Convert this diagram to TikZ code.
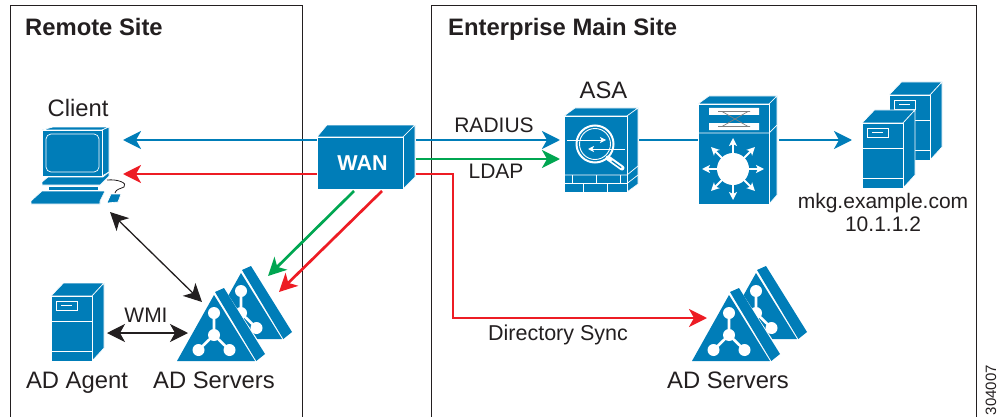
\documentclass[tikz,border=0pt]{standalone}
\usepackage{fontspec}
\setmainfont{Liberation Sans}
\usetikzlibrary{arrows.meta}
\definecolor{cblue}{HTML}{007DB8}
\definecolor{cred}{HTML}{ED1C24}
\definecolor{cgreen}{HTML}{00A651}
\definecolor{cink}{HTML}{231F20}
\tikzset{
  frame/.style={draw=cink,line width=1pt},
  face/.style={fill=cblue,draw=white,line width=.6pt,line join=round},
  wline/.style={draw=white,line width=.7pt},
  flowb/.style={draw=cblue,line width=2.7pt,-{Stealth[length=18pt,width=18pt,inset=5pt]}},
  flowr/.style={draw=cred,line width=2.7pt,-{Stealth[length=18pt,width=18pt,inset=5pt]}},
  flowg/.style={draw=cgreen,line width=2.7pt,-{Stealth[length=18pt,width=18pt,inset=5pt]}},
  link/.style={draw=cblue,line width=2.7pt},
  duplex/.style={draw=cink,line width=1.3pt,{Stealth[length=18pt,width=18pt,inset=5pt]}-{Stealth[length=18pt,width=18pt,inset=5pt]}},
  lab/.style={anchor=base,inner sep=0pt,text=cink,font=\fontsize{23.8}{26}\selectfont},
  small/.style={anchor=base,inner sep=0pt,text=cink,font=\fontsize{21}{24}\selectfont},
  title/.style={anchor=base west,inner sep=0pt,text=cink,font=\fontsize{23.8}{26}\selectfont\bfseries},
  hub/.style={fill=white,draw=none},
  tiparrow/.style={draw=white,line width=1.8pt,-{Stealth[length=8pt,width=8pt,inset=2pt]}},
  thinarrow/.style={draw=white,line width=1pt,-{Stealth[length=6pt,width=6pt,inset=1.5pt]}},
}
\newcommand{\drawServer}[2]{%
\begin{scope}[shift={(#1,#2)}]
  \path[face] (0,0) -- (12.5,-13) -- (53,-13) -- (41,0) -- cycle;
  \path[face] (41,0) -- (53,-13) -- (53,52) -- (41,65) -- cycle;
  \path[face] (0,0) rectangle (41,65);
  \draw[wline] (0,25) -- (41,25) (0,55) -- (41,55);
  \draw[wline] (5,5) rectangle (26,14);
  \draw[wline] (10,9.5) -- (21,9.5);
\end{scope}}
\newcommand{\drawTriangle}[2]{%
\begin{scope}[shift={(#1,#2)}]
  \path[fill=white] (-1,1) -- (37,-67) -- (46,-74) -- (90,-7) -- (79,1) -- cycle;
  \path[fill=cblue] (0,0) -- (37,-66) -- (78,0) -- cycle;
  \path[fill=cblue] (38,-69) -- (47,-73) -- (88,-7) -- (79.3,0) -- cycle;
  \draw[draw=white,line width=2.6pt] (37,-48) -- (37,-26) (37,-26) -- (21.5,-11) (37,-26) -- (52.5,-11);
  \foreach \p in {(37,-48),(37,-26),(21.5,-11),(52.5,-11)} \fill[hub] \p circle (6);
\end{scope}}
\begin{document}
\begin{tikzpicture}[x=1pt,y=-1pt]
\useasboundingbox (0,0) rectangle (1000,417);
% site frames
\draw[frame] (10,417) -- (10,6) -- (302,6) -- (302,417);
\draw[frame] (431,417) -- (431,6) -- (976,6) -- (976,417);
\node[title] (remote) at (25,36) {Remote Site};
\node[title] (main) at (448,36) {Enterprise Main Site};

% ports
\coordinate (wanWa) at (317,140);
\coordinate (wanWb) at (317,174);
\coordinate (wanEa) at (416,140);
\coordinate (wanEb) at (416,159);
\coordinate (wanEc) at (416,174);
\coordinate (wanSa) at (354,191);
\coordinate (wanSb) at (382,191);
\coordinate (clientA) at (123,140);
\coordinate (clientB) at (123,174);
\coordinate (clientS) at (110,212);
\coordinate (asaA) at (560,140);
\coordinate (asaB) at (560,159);
\coordinate (asaE) at (639,140);
\coordinate (swW) at (698,140);
\coordinate (swE) at (779,140);
\coordinate (srvW) at (852,140);
\coordinate (adA) at (268,276);
\coordinate (adB) at (279,292);
\coordinate (adC) at (202,302);
\coordinate (adD) at (188,333);
\coordinate (agentE) at (107,333);
\coordinate (bend) at (453,174);
\coordinate (bendB) at (453,318);
\coordinate (adMain) at (707,318);

% connectors
\draw[flowb] (wanWa) -- (clientA);
\draw[flowr] (wanWb) -- (clientB);
\draw[flowb] (wanEa) -- (asaA);
\draw[flowg] (wanEb) -- (asaB);
\draw[flowr,line join=miter] (wanEc) -- (bend) -- (bendB) -- (adMain);
\draw[flowg] (wanSa) -- (adA);
\draw[flowr] (wanSb) -- (adB);
\draw[duplex] (clientS) -- (adC);
\draw[duplex] (agentE) -- (adD);
\draw[link] (asaE) -- (swW);
\draw[flowb] (swE) -- (srvW);

% client computer
\path[face] (42,130) -- (53,127) -- (109,127) -- (102,130) -- cycle;
\path[face] (102,130) -- (109,127) -- (109,172) -- (102,176) -- cycle;
\path[face] (42,130) rectangle (102,176);
\draw[wline,rounded corners=5pt] (46,134) rectangle (99,172);
\path[face] (42,182) -- (48,177) -- (103,177) -- (109,172) -- (109,176) -- (100,185) -- (42,185) -- cycle;
\path[face] (48,186) rectangle (98,190);
\path[face] (31,201) -- (42,191) -- (105,191) -- (100,201) -- (100,204) -- (31,204) -- cycle;
\path[face] (107,203) -- (111,194) -- (121,194) -- (118,202) -- cycle;
\draw[cink,line width=.8pt] (107,180) .. controls (118,179) and (128,183) .. (124,187) .. controls (120,189) and (116,189) .. (115,193);

% AD agent and main-site servers
\drawServer{51}{296}
\drawServer{889}{95}
\drawServer{862}{123}

% AD servers
\drawTriangle{204}{339}
\drawTriangle{177}{361}
\drawTriangle{719}{339}
\drawTriangle{692}{361}

% WAN cloud box
\path[face] (317,137) -- (327,125) -- (415,125) -- (403,137) -- cycle;
\path[face] (403,137) -- (415,125) -- (415,177) -- (403,189) -- cycle;
\path[face] (317,137) rectangle (403,189);
\node[anchor=base,inner sep=0pt,text=white,font=\fontsize{21.5}{24}\selectfont\bfseries] (wan) at (362.5,170) {WAN};

% ASA
\path[face] (564,116) -- (575,108) -- (638,108) -- (627,116) -- cycle;
\path[face] (627,116) -- (638,108) -- (638,184) -- (627,192) -- cycle;
\path[face] (564,116) rectangle (627,192);
\draw[wline] (564,175) -- (627,175) -- (638,166) (564,183.5) -- (627,183.5) -- (638,175);
\draw[wline] (572,175) -- (572,183.5) (596,175) -- (596,183.5) (620,175) -- (620,183.5);
\draw[wline] (583,183.5) -- (583,192) (607,183.5) -- (607,192);
\draw[draw=white,line width=2pt] (595,144) circle (18.5);
\draw[draw=white,line width=.9pt] (595,144) circle (15.5);
\draw[draw=white,line width=5pt,line cap=round] (608,158) -- (622,168);
\draw[draw=cblue,line width=1.2pt,line cap=round] (612,161) -- (621,167.5);
\draw[thinarrow] (567,140) -- (606,140);
\draw[thinarrow] (625,149) -- (588,149);

% multilayer switch
\path[face] (698,104) -- (709,96) -- (777,96) -- (769,104) -- cycle;
\path[face] (769,104) -- (777,96) -- (777,195) -- (769,204) -- cycle;
\path[face] (698,104) rectangle (769,204);
\draw[wline] (698,133) -- (769,133) -- (777,125);
\fill[white] (709,108) rectangle (759,115) (709,123) rectangle (759,130);
\draw[gray,line width=.7pt] (718,111.5) -- (750,111.5) (718,126.5) -- (750,126.5) (722,111.5) -- (748,126.5) (722,126.5) -- (748,111.5);
\fill[white] (733,169) circle (16);
\foreach \a in {0,45,...,315} \draw[tiparrow] (733,169) -- ++(\a:31);

% labels
\node[lab] (client) at (78,116.5) {Client};
\node[lab] (agent) at (77,388) {AD Agent};
\node[lab] (servers) at (214,388) {AD Servers};
\node[lab] (serversb) at (728,388) {AD Servers};
\node[lab] (asa) at (603.5,99) {ASA};
\node[small] (wmi) at (146,322) {WMI};
\node[small] (radius) at (494,132) {RADIUS};
\node[small] (ldap) at (496,178) {LDAP};
\node[anchor=base,inner sep=0pt,text=cink,font=\fontsize{21.5}{26}\selectfont] (sync) at (558,340) {Directory Sync};
\node[small] (host) at (883,208) {mkg.example.com};
\node[small] (addr) at (883,231) {10.1.1.2};
\node[anchor=base,inner sep=0pt,text=cink,rotate=90,font=\fontsize{15}{18}\selectfont] (fig) at (996,390) {304007};
\end{tikzpicture}
\end{document}
